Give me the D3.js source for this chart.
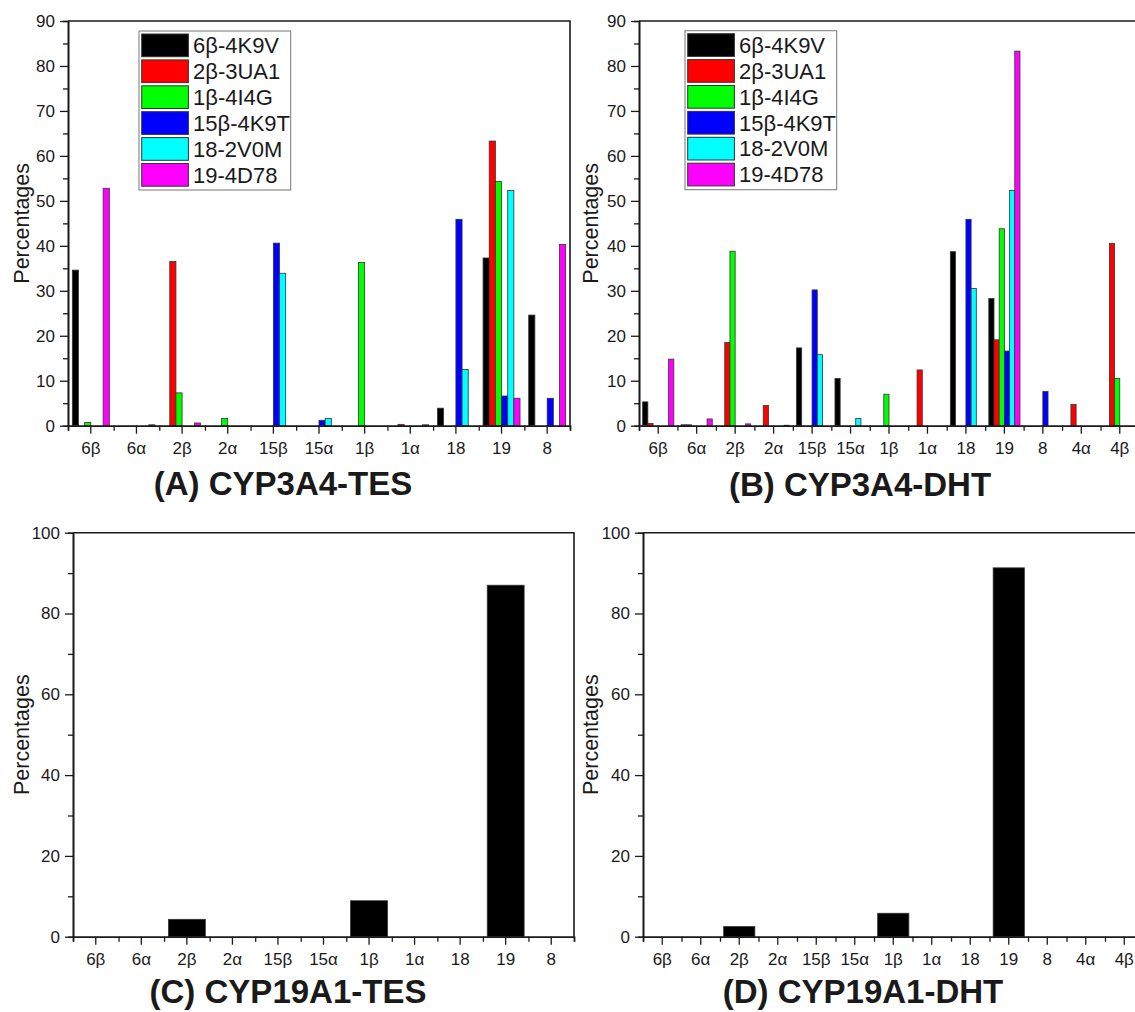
<!DOCTYPE html>
<html lang="en">
<head>
    <meta charset="utf-8">
    <title>CYP hydroxylation percentages</title>
    <script src="https://d3js.org/d3.v7.min.js"></script>
    <style>
        body { margin: 0; background: #fff; }
        text { font-family: Arial, 'Liberation Sans', sans-serif; fill: #1a1a1a; }
    </style>
</head>
<body>
<svg width="1135" height="1012" id="mainsvg"></svg>
<script>
    // categories (sites of oxidation)
    const catsTES = ['6β', '6α', '2β', '2α', '15β', '15α', '1β', '1α', '18', '19', '8']
    const catsDHT = ['6β', '6α', '2β', '2α', '15β', '15α', '1β', '1α', '18', '19', '8', '4α', '4β']

    // CYP3A4 series (templates)
    const seriesNames = ['6β-4K9V', '2β-3UA1', '1β-4I4G', '15β-4K9T', '18-2V0M', '19-4D78']
    const seriesColors = ['#000000', '#ff0000', '#00ff00', '#0000ff', '#00ffff', '#ff00ff']

    // (A) CYP3A4-TES, one row per series, one value per category
    const cyp3a4TES = [
        [34.6, 0, 0, 0, 0, 0, 0, 0, 3.9, 37.3, 24.6],
        [0, 0, 36.5, 0, 0, 0, 0, 0.3, 0, 63.3, 0],
        [0.7, 0, 7.3, 1.6, 0, 0, 36.3, 0, 0, 54.3, 0],
        [0, 0, 0, 0, 40.6, 1.2, 0, 0, 45.9, 6.6, 6.1],
        [0, 0, 0, 0, 33.9, 1.6, 0, 0, 12.5, 52.3, 0],
        [52.8, 0.2, 0.6, 0, 0, 0, 0, 0.2, 0, 6.1, 40.3]
    ]

    // (B) CYP3A4-DHT
    const cyp3a4DHT = [
        [5.3, 0.2, 0, 0, 17.3, 10.5, 0, 0, 38.7, 28.3, 0, 0, 0],
        [0.5, 0.2, 18.5, 4.5, 0, 0, 0, 12.4, 0, 19.1, 0, 4.7, 40.5],
        [0, 0, 38.8, 0, 0, 0, 7.0, 0, 0, 43.8, 0, 0, 10.5],
        [0, 0, 0, 0, 30.2, 0, 0, 0, 45.9, 16.6, 7.6, 0, 0],
        [0, 0, 0, 0, 15.8, 1.6, 0, 0, 30.5, 52.3, 0, 0, 0],
        [14.8, 1.5, 0.4, 0.1, 0, 0, 0, 0, 0, 83.3, 0, 0, 0]
    ]

    // (C) CYP19A1-TES and (D) CYP19A1-DHT
    const cyp19a1TES = [[0, 0, 4.3, 0, 0, 0, 8.9, 0, 0, 87.0, 0]]
    const cyp19a1DHT = [[0, 0, 2.5, 0, 0, 0, 5.8, 0, 0, 91.3, 0, 0, 0]]

    const svg = d3.select('#mainsvg')
    const axisColor = '#1a1a1a'

    const drawPanel = function (p) {
        const g = svg.append('g')

        const x = d3.scaleBand().domain(p.cats).range([p.x0, p.x1])
            .paddingInner(0.19).paddingOuter(0.095)
        const xMinor = d3.scaleLinear().domain([0, p.cats.length]).range([p.x0, p.x1])
        const xs = d3.scaleBand().domain(d3.range(p.values.length)).range([0, x.bandwidth()])
        const y = d3.scaleLinear().domain([0, p.yMax]).range([p.y1, p.y0])

        // bars
        p.values.forEach((row, si) => {
            row.forEach((v, ci) => {
                if (!v) return
                g.append('rect')
                    .attr('x', x(p.cats[ci]) + xs(si))
                    .attr('y', y(v))
                    .attr('width', xs.bandwidth())
                    .attr('height', y(0) - y(v))
                    .attr('fill', p.colors[si])
                    .attr('stroke', '#333')
                    .attr('stroke-width', 0.8)
            })
        })

        // minor ticks
        g.append('g').attr('transform', `translate(0, ${p.y1})`)
            .call(d3.axisBottom(xMinor).tickValues(d3.range(0, p.cats.length + 1)).tickSize(5).tickFormat(''))
        g.append('g').attr('transform', `translate(${p.x0}, 0)`)
            .call(d3.axisLeft(y).tickValues(d3.range(p.yStep / 2, p.yMax, p.yStep)).tickSize(5).tickFormat(''))

        // major axes
        g.append('g').attr('transform', `translate(0, ${p.y1})`)
            .call(d3.axisBottom(x).tickSize(8).tickSizeOuter(0).tickPadding(8))
        g.append('g').attr('transform', `translate(${p.x0}, 0)`)
            .call(d3.axisLeft(y).tickValues(d3.range(0, p.yMax + 1, p.yStep)).tickSize(8).tickSizeOuter(0).tickPadding(5))

        g.selectAll('.tick line').attr('stroke', axisColor).attr('stroke-width', 1.3)
        g.selectAll('.domain').attr('stroke', axisColor).attr('stroke-width', 1.6)
        g.selectAll('.tick text').attr('font-size', 17).attr('fill', axisColor)
            .attr('font-family', "Arial, 'Liberation Sans', sans-serif")

        // box (top and right)
        g.append('path')
            .attr('d', `M${p.x0},${p.y0}H${p.x1}V${p.y1}`)
            .attr('fill', 'none').attr('stroke', axisColor).attr('stroke-width', 1.6)

        // y label
        g.append('text')
            .text('Percentages')
            .attr('transform', `translate(${p.labelX}, ${(p.y0 + p.y1) / 2}) rotate(-90)`)
            .attr('text-anchor', 'middle')
            .attr('font-size', 21.5)

        // title
        g.append('text')
            .text(p.title)
            .attr('x', p.titleX).attr('y', p.titleY)
            .attr('text-anchor', 'middle')
            .attr('font-size', 33)
            .attr('font-weight', 'bold')
            .attr('fill', '#000')

        // legend
        if (p.legend) {
            const lg = g.append('g').attr('transform', `translate(${p.legend[0]}, ${p.legend[1]})`)
            lg.append('rect')
                .attr('width', 151.7).attr('height', 159)
                .attr('fill', '#fff').attr('stroke', '#777').attr('stroke-width', 1)
            seriesNames.forEach((name, i) => {
                lg.append('rect')
                    .attr('x', 2.7).attr('y', 3 + i * 25.9)
                    .attr('width', 46.7).attr('height', 22.7)
                    .attr('fill', p.colors[i])
                    .attr('stroke', '#333').attr('stroke-width', 1)
                lg.append('text')
                    .text(name)
                    .attr('x', 54).attr('y', 3 + i * 25.9 + 19.2)
                    .attr('font-size', 22)
            })
        }
    }

    drawPanel({cats: catsTES, values: cyp3a4TES, colors: seriesColors,
        x0: 68, x1: 570, y0: 21, y1: 425.7, yMax: 90, yStep: 10,
        labelX: 29, title: '(A) CYP3A4-TES', titleX: 283, titleY: 495, legend: [139, 31]})

    drawPanel({cats: catsDHT, values: cyp3a4DHT, colors: seriesColors,
        x0: 639, x1: 1139, y0: 21, y1: 425.7, yMax: 90, yStep: 10,
        labelX: 598, title: '(B) CYP3A4-DHT', titleX: 860, titleY: 496, legend: [685, 30.7]})

    drawPanel({cats: catsTES, values: cyp19a1TES, colors: ['#000000'],
        x0: 73, x1: 574, y0: 532.7, y1: 936.7, yMax: 100, yStep: 20,
        labelX: 29, title: '(C) CYP19A1-TES', titleX: 288, titleY: 1003})

    drawPanel({cats: catsDHT, values: cyp19a1DHT, colors: ['#000000'],
        x0: 643, x1: 1143.5, y0: 532.7, y1: 936.7, yMax: 100, yStep: 20,
        labelX: 598, title: '(D) CYP19A1-DHT', titleX: 863, titleY: 1003})
</script>
</body>
</html>
